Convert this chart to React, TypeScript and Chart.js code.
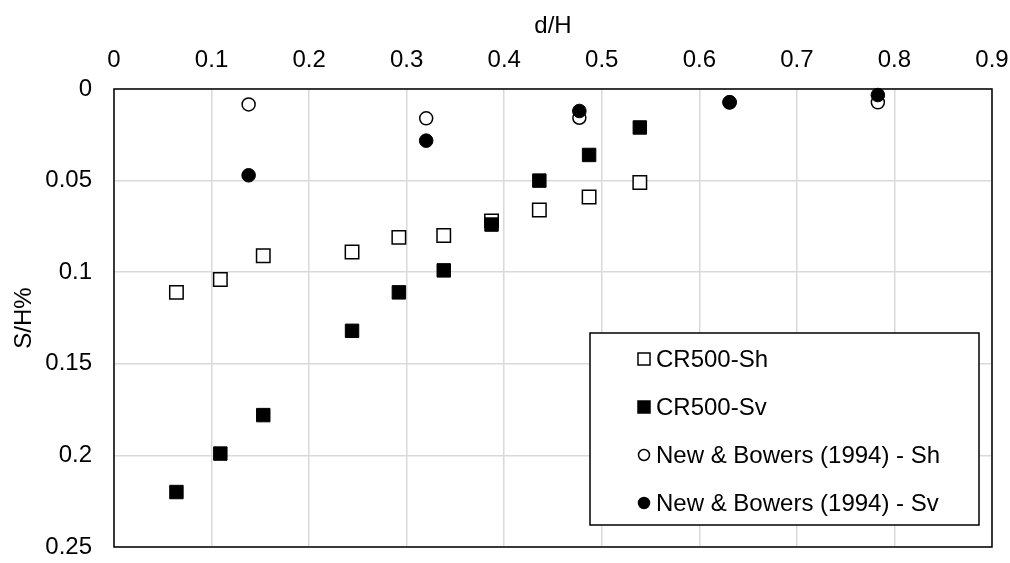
import React, { useEffect, useRef } from "react";
import { Chart, registerables } from "chart.js";

Chart.register(...registerables);

// ---- data ----
const crX = [0.064, 0.109, 0.153, 0.244, 0.292, 0.338, 0.387, 0.436, 0.487, 0.539];
const crShY = [0.111, 0.104, 0.091, 0.089, 0.081, 0.080, 0.072, 0.066, 0.059, 0.051];
const crSvY = [0.220, 0.199, 0.178, 0.132, 0.111, 0.099, 0.074, 0.050, 0.036, 0.021];
const nbX = [0.138, 0.320, 0.477, 0.631, 0.783];
const nbShY = [0.0084, 0.0160, 0.0157, 0.0073, 0.0073];
const nbSvY = [0.0471, 0.0282, 0.0120, 0.0073, 0.0033];

const seriesNames = ["CR500-Sh", "CR500-Sv", "New & Bowers (1994) - Sh", "New & Bowers (1994) - Sv"];
const xTickLabels = ["0", "0.1", "0.2", "0.3", "0.4", "0.5", "0.6", "0.7", "0.8", "0.9"];
const yTickLabels = ["0", "0.05", "0.1", "0.15", "0.2", "0.25"];
const xTitle = "d/H";
const yTitle = "S/H%";

const FONT = "'Liberation Sans', Arial, sans-serif";
const FS = 24;

const toPts = (xs: number[], ys: number[]) => xs.map((x, i) => ({ x, y: ys[i] }));

const framePlugin = {
  id: "frame",
  beforeDatasetsDraw(chart: any) {
    const { ctx, chartArea: a } = chart;
    ctx.save();
    ctx.strokeStyle = "#000";
    ctx.lineWidth = 1.5;
    ctx.strokeRect(a.left, a.top, a.right - a.left, a.bottom - a.top);
    ctx.restore();
  },
};

const legendPlugin = {
  id: "boxLegend",
  afterDraw(chart: any) {
    const { ctx, chartArea: a } = chart;
    const bx = a.right - 402;
    const by = a.bottom - 214;
    const bw = 389;
    const bh = 192;
    ctx.save();
    ctx.fillStyle = "#fff";
    ctx.fillRect(bx, by, bw, bh);
    ctx.strokeStyle = "#000";
    ctx.lineWidth = 1.5;
    ctx.strokeRect(bx, by, bw, bh);
    ctx.font = `${FS}px ${FONT}`;
    ctx.textBaseline = "middle";
    ctx.textAlign = "left";
    chart.data.datasets.forEach((ds: any, i: number) => {
      const cy = by + 26 + i * 48;
      const cx = bx + 54;
      ctx.lineWidth = 1.5;
      ctx.strokeStyle = "#000";
      ctx.fillStyle = ds.backgroundColor;
      if (ds.pointStyle === "rect") {
        ctx.fillRect(cx - 6, cy - 6, 12, 12);
        ctx.strokeRect(cx - 6, cy - 6, 12, 12);
      } else {
        ctx.beginPath();
        ctx.arc(cx, cy, 5.5, 0, Math.PI * 2);
        ctx.fill();
        ctx.stroke();
      }
      ctx.fillStyle = "#000";
      ctx.fillText(ds.label, bx + 66, cy + 1);
    });
    ctx.restore();
  },
};

export default function App() {
  const ref = useRef<HTMLCanvasElement>(null);
  useEffect(() => {
    if (!ref.current) return;
    const chart = new Chart(ref.current, {
      type: "scatter",
      data: {
        datasets: [
          {
            label: seriesNames[0],
            data: toPts(crX, crShY),
            pointStyle: "rect",
            pointRadius: 9.5,
            pointHoverRadius: 9.5,
            backgroundColor: "#fff",
            borderColor: "#000",
            borderWidth: 1.5,
            order: 4,
            clip: false,
          },
          {
            label: seriesNames[1],
            data: toPts(crX, crSvY),
            pointStyle: "rect",
            pointRadius: 9.5,
            pointHoverRadius: 9.5,
            backgroundColor: "#000",
            borderColor: "#000",
            borderWidth: 1,
            order: 3,
            clip: false,
          },
          {
            label: seriesNames[2],
            data: toPts(nbX, nbShY),
            pointStyle: "circle",
            pointRadius: 6.5,
            pointHoverRadius: 6.5,
            backgroundColor: "#fff",
            borderColor: "#000",
            borderWidth: 1.5,
            order: 2,
            clip: false,
          },
          {
            label: seriesNames[3],
            data: toPts(nbX, nbSvY),
            pointStyle: "circle",
            pointRadius: 6.8,
            pointHoverRadius: 6.8,
            backgroundColor: "#000",
            borderColor: "#000",
            borderWidth: 1,
            order: 1,
            clip: false,
          },
        ],
      },
      options: {
        responsive: false,
        animation: false,
        devicePixelRatio: 1,
        layout: { padding: { top: 0, right: 18, bottom: 16, left: 0 } },
        plugins: {
          legend: { display: false },
          tooltip: { enabled: false },
        },
        scales: {
          x: {
            type: "linear",
            position: "top",
            min: 0,
            max: 0.9,
            afterFit: (s: any) => {
              s.height = 89;
              s.paddingLeft = 0;
              s.paddingRight = 0;
            },
            afterBuildTicks: (s: any) => {
              s.ticks = xTickLabels.map((_, i) => ({ value: i * 0.1 }));
            },
            ticks: {
              callback: (_v: any, i: number) => xTickLabels[i],
              font: { size: FS, family: FONT },
              color: "#000",
              padding: 14,
              maxRotation: 0,
            },
            grid: { color: "#d9d9d9", lineWidth: 1.5, drawTicks: false },
            border: { display: false },
            title: {
              display: true,
              text: xTitle,
              font: { size: FS, family: FONT },
              color: "#000",
              padding: { top: 12, bottom: 0 },
            },
          },
          y: {
            type: "linear",
            reverse: true,
            min: 0,
            max: 0.25,
            afterFit: (s: any) => {
              s.width = 114;
              s.paddingTop = 0;
              s.paddingBottom = 0;
            },
            afterBuildTicks: (s: any) => {
              s.ticks = yTickLabels.map((_, i) => ({ value: i * 0.05 }));
            },
            ticks: {
              callback: (_v: any, i: number) => yTickLabels[i],
              font: { size: FS, family: FONT },
              color: "#000",
              padding: 22,
            },
            grid: { color: "#d9d9d9", lineWidth: 1.5, drawTicks: false },
            border: { display: false },
            title: {
              display: true,
              text: yTitle,
              font: { size: FS, family: FONT },
              color: "#000",
              padding: { top: 10, bottom: 0 },
            },
          },
        },
      },
      plugins: [framePlugin, legendPlugin],
    } as any);
    return () => chart.destroy();
  }, []);
  return (
    <div style={{ position: "absolute", left: 0, top: 0, width: 1010, height: 563, background: "#fff" }}>
      <canvas ref={ref} width={1010} height={563} style={{ display: "block" }} />
    </div>
  );
}
